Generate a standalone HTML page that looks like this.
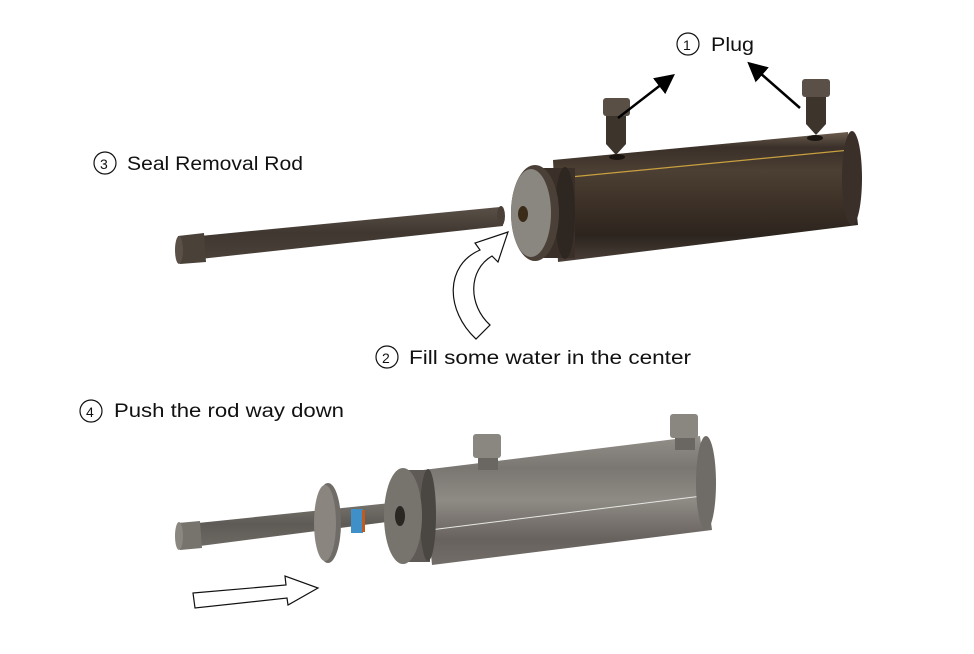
<!DOCTYPE html>
<html><head><meta charset="utf-8"><style>
body{margin:0;background:#fff;}
svg{display:block}
text{font-family:"Liberation Sans",sans-serif;font-size:19px;fill:#111}
</style></head><body>
<svg width="974" height="654" viewBox="0 0 974 654" xmlns="http://www.w3.org/2000/svg">
<defs>
<linearGradient id="br" x1="0" y1="0" x2="0" y2="1">
<stop offset="0" stop-color="#6b5c4e"/><stop offset="0.12" stop-color="#3a3029"/><stop offset="0.3" stop-color="#4c3f33"/><stop offset="0.55" stop-color="#3d3127"/><stop offset="0.8" stop-color="#2c241e"/><stop offset="1" stop-color="#4a4038"/></linearGradient>
<linearGradient id="gr" x1="0" y1="0" x2="0" y2="1">
<stop offset="0" stop-color="#928e88"/><stop offset="0.25" stop-color="#7a7671"/><stop offset="0.5" stop-color="#8e8a84"/><stop offset="0.8" stop-color="#67625d"/><stop offset="1" stop-color="#726d68"/></linearGradient>
<linearGradient id="rod" x1="0" y1="0" x2="0" y2="1">
<stop offset="0" stop-color="#5a5048"/><stop offset="0.5" stop-color="#3f3730"/><stop offset="1" stop-color="#4a4139"/></linearGradient>
<linearGradient id="rodg" x1="0" y1="0" x2="0" y2="1">
<stop offset="0" stop-color="#77736d"/><stop offset="0.5" stop-color="#5e5a55"/><stop offset="1" stop-color="#6c6862"/></linearGradient>
<marker id="ah" markerWidth="8" markerHeight="8" refX="6" refY="4" orient="auto"><path d="M0,0 L8,4 L0,8 z" fill="#000"/></marker>
</defs>

<!-- labels -->
<circle cx="688" cy="44" r="11" fill="none" stroke="#111" stroke-width="1.2"/><text x="683" y="50" style="font-size:14px">1</text>
<text x="711" y="51" textLength="43" lengthAdjust="spacingAndGlyphs">Plug</text>
<circle cx="105" cy="163" r="11" fill="none" stroke="#111" stroke-width="1.2"/><text x="100" y="169" style="font-size:14px">3</text>
<text x="127" y="170" textLength="176" lengthAdjust="spacingAndGlyphs">Seal Removal Rod</text>
<circle cx="387" cy="357" r="11" fill="none" stroke="#111" stroke-width="1.2"/><text x="382" y="363" style="font-size:14px">2</text>
<text x="409" y="364" textLength="282" lengthAdjust="spacingAndGlyphs">Fill some water in the center</text>
<circle cx="91" cy="411" r="11" fill="none" stroke="#111" stroke-width="1.2"/><text x="86" y="417" style="font-size:14px">4</text>
<text x="114" y="417" textLength="230" lengthAdjust="spacingAndGlyphs">Push the rod way down</text>

<!-- top rod -->
<polygon points="200,236 500,207 503,226 200,259" fill="url(#rod)"/>
<ellipse cx="501" cy="216" rx="4" ry="10" fill="#4a4038"/>
<polygon points="178,236 204,233 206,262 180,264" fill="#4a4139"/>
<ellipse cx="179" cy="250" rx="4" ry="14" fill="#5a5048"/>

<!-- top cylinder -->
<polygon points="553,160 848,132 858,225 558,262" fill="url(#br)"/>
<line x1="560" y1="178" x2="850" y2="150" stroke="#c8a040" stroke-width="1.2"/>
<ellipse cx="852" cy="178" rx="10" ry="47" fill="#3a3029"/>
<rect x="535" y="168" width="40" height="90" fill="#3a3029"/>
<ellipse cx="565" cy="213" rx="10" ry="46" fill="#2e2620"/>
<ellipse cx="535" cy="213" rx="24" ry="48" fill="#4a4038"/>
<ellipse cx="531" cy="213" rx="20" ry="44" fill="#8a8680"/>
<ellipse cx="523" cy="214" rx="5" ry="8" fill="#3a2c18"/>
<ellipse cx="617" cy="157" rx="8" ry="3" fill="#1a1410"/>
<ellipse cx="815" cy="138" rx="8" ry="3" fill="#1a1410"/>

<!-- top plugs -->
<rect x="606" y="112" width="20" height="32" fill="#3d342c"/>
<polygon points="606,144 626,144 616,155" fill="#3d342c"/>
<rect x="603" y="98" width="27" height="18" rx="3" fill="#5a4f45"/>
<rect x="806" y="94" width="20" height="30" fill="#3d342c"/>
<polygon points="806,124 826,124 816,135" fill="#3d342c"/>
<rect x="802" y="79" width="28" height="18" rx="3" fill="#5a5048"/>

<!-- black arrows -->
<line x1="618" y1="118" x2="671" y2="77" stroke="#000" stroke-width="2.5" marker-end="url(#ah)"/>
<line x1="800" y1="108" x2="751" y2="65" stroke="#000" stroke-width="2.5" marker-end="url(#ah)"/>

<!-- curved hollow arrow -->
<path d="M476,339 C445,310 445,265 480,250 L475,243 L508,232 L498,262 L492,256 C468,270 468,305 490,325 Z" fill="#fff" stroke="#111" stroke-width="1.2"/>

<!-- bottom rod -->
<polygon points="198,523 400,502 402,520 200,546" fill="url(#rodg)"/>
<polygon points="178,523 200,521 202,548 180,550" fill="#77736d"/>
<ellipse cx="179" cy="536" rx="4" ry="14" fill="#8a8680"/>
<ellipse cx="328" cy="523" rx="13" ry="40" fill="#6f6b66"/>
<ellipse cx="325" cy="523" rx="11" ry="38" fill="#8a857f"/>
<rect x="351" y="509" width="12" height="24" fill="#3f8fc8"/>
<rect x="362" y="510" width="3" height="22" fill="#c05a20"/>

<!-- bottom cylinder -->
<polygon points="423,470 700,436 712,530 432,565" fill="url(#gr)"/>
<line x1="430" y1="530" x2="710" y2="495" stroke="#e8e8e4" stroke-width="1"/>
<ellipse cx="706" cy="483" rx="10" ry="47" fill="#6f6b66"/>
<rect x="400" y="470" width="30" height="92" fill="#5f5a55"/>
<ellipse cx="428" cy="515" rx="8" ry="46" fill="#4a4642"/>
<ellipse cx="403" cy="516" rx="19" ry="48" fill="#77736d"/>
<ellipse cx="400" cy="516" rx="5" ry="10" fill="#2a2622"/>

<!-- bottom plugs -->
<rect x="478" y="455" width="20" height="15" fill="#6a6661"/>
<rect x="473" y="434" width="28" height="24" rx="3" fill="#8a8680"/>
<rect x="675" y="436" width="20" height="14" fill="#6a6661"/>
<rect x="670" y="414" width="28" height="24" rx="3" fill="#8a8680"/>

<!-- bottom hollow arrow -->
<path d="M193,593 L286,585 L285,576 L318,588 L288,605 L287,598 L195,608 Z" fill="#fff" stroke="#111" stroke-width="1.2"/>
</svg>
</body></html>
